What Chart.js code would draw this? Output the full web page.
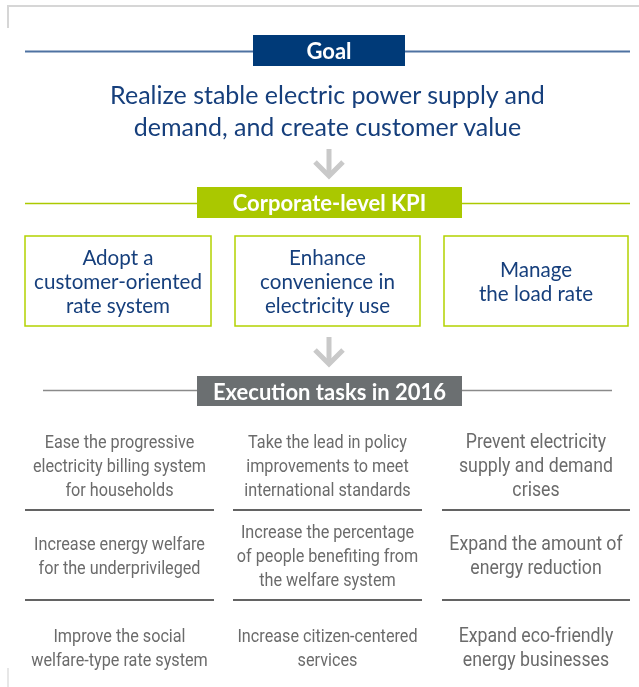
<!DOCTYPE html>
<html>
<head>
<meta charset="utf-8">
<script src="https://cdn.jsdelivr.net/npm/chart.js@4"></script>
<style>
  html, body { margin: 0; padding: 0; background: #fff; }
  #wrap { position: relative; width: 639px; height: 687px; overflow: hidden; }
  #diagram { position: absolute; left: 0; top: 0; }
  .txt { position: absolute; display: flex; flex-direction: column; justify-content: center; align-items: center; text-align: center; white-space: nowrap; }
  .label { font-family: Lato, "Open Sans", sans-serif; font-weight: 700; color: #fff; font-size: 22px; }
  .goal { font-family: Lato, "Open Sans", sans-serif; color: #163f7c; font-size: 25px; line-height: 32px; }
  .kpi { font-family: Lato, "Open Sans", sans-serif; color: #163f7c; font-size: 20.6px; line-height: 24px; }
  .task { font-family: Roboto, sans-serif; color: #6b6b6b; font-size: 18px; line-height: 24px; transform: scaleX(0.9); transform-origin: center; }
  .task.big { font-size: 19.7px; }
</style>
</head>
<body>
<div id="wrap">
  <canvas id="diagram" width="639" height="687"></canvas>
</div>
<script>
document.addEventListener('DOMContentLoaded', function () {
    const goalLabel = 'Goal';
    const goalText = ['Realize stable electric power supply and', 'demand, and create customer value'];
    const kpiLabel = 'Corporate-level KPI';
    const kpiItems = [
        ['Adopt a', 'customer-oriented', 'rate system'],
        ['Enhance', 'convenience in', 'electricity use'],
        ['Manage', 'the load rate']
    ];
    const taskLabel = 'Execution tasks in 2016';
    const taskRow1 = [
        ['Ease the progressive', 'electricity billing system', 'for households'],
        ['Take the lead in policy', 'improvements to meet', 'international standards'],
        ['Prevent electricity', 'supply and demand', 'crises']
    ];
    const taskRow2 = [
        ['Increase energy welfare', 'for the underprivileged'],
        ['Increase the percentage', 'of people benefiting from', 'the welfare system'],
        ['Expand the amount of', 'energy reduction']
    ];
    const taskRow3 = [
        ['Improve the social', 'welfare-type rate system'],
        ['Increase citizen-centered', 'services'],
        ['Expand eco-friendly', 'energy businesses']
    ];

    const wrap = document.getElementById('wrap');
    const kpiCols = [[25, 211], [235, 420], [444, 628]];
    const taskCols = [[25, 214], [233, 422], [442, 630]];

    function addText(cls, lines, left, top, width, height) {
        const d = document.createElement('div');
        d.className = 'txt ' + cls;
        d.style.left = left + 'px';
        d.style.top = top + 'px';
        d.style.width = width + 'px';
        d.style.height = height + 'px';
        lines.forEach(l => {
            const s = document.createElement('span');
            s.textContent = l;
            d.appendChild(s);
        });
        wrap.appendChild(d);
    }

    // Dibujo de marcos, barras y flechas
    const layoutPlugin = {
        id: 'layout',
        afterDraw(chart) {
            const c = chart.ctx;
            const x = v => chart.scales.x.getPixelForValue(v);
            const y = v => chart.scales.y.getPixelForValue(v);
            c.save();

            function line(x1, y1, x2, y2, color, w) {
                c.beginPath();
                c.strokeStyle = color;
                c.lineWidth = w;
                c.moveTo(x(x1), y(y1));
                c.lineTo(x(x2), y(y2));
                c.stroke();
            }
            function rect(x1, y1, x2, y2, color) {
                c.fillStyle = color;
                c.fillRect(x(x1), y(y1), x(x2) - x(x1), y(y2) - y(y1));
            }
            function arrow(cx, top, bottom) {
                c.strokeStyle = '#c9c9c9';
                c.lineWidth = 5;
                c.lineCap = 'butt';
                c.beginPath();
                c.moveTo(x(cx), y(top));
                c.lineTo(x(cx), y(bottom - 2));
                c.stroke();
                c.beginPath();
                c.moveTo(x(cx - 14), y(bottom - 16));
                c.lineTo(x(cx), y(bottom - 2));
                c.lineTo(x(cx + 14), y(bottom - 16));
                c.stroke();
            }

            // marco de página
            line(7, 6, 639, 6, '#d6d6d6', 2);
            line(8, 5, 8, 28, '#d6d6d6', 2);
            line(8, 668, 8, 687, '#cfcfcf', 1);

            // Goal
            line(25, 51.5, 630, 51.5, '#4e72a2', 2);
            rect(253, 35, 405, 66, '#003a78');

            arrow(329, 149, 178);

            // KPI
            line(25, 203.5, 630, 203.5, '#acc900', 1.5);
            rect(197, 187, 462, 218, '#aac800');
            c.strokeStyle = '#b3d200';
            c.lineWidth = 1.5;
            kpiCols.forEach(([a, b]) => {
                c.strokeRect(x(a), y(236), x(b) - x(a), y(326) - y(236));
            });

            arrow(329, 337, 366);

            // tareas
            line(43, 390.5, 612, 390.5, '#8a8a8a', 1.5);
            rect(197, 376, 462, 406, '#6b6f71');
            taskCols.forEach(([a, b]) => {
                line(a, 510, b, 510, '#2f2f2f', 1.5);
                line(a, 600, b, 600, '#2f2f2f', 1.5);
            });
            c.restore();
        }
    };

    new Chart(document.getElementById('diagram').getContext('2d'), {
        type: 'scatter',
        data: { datasets: [{ data: [] }] },
        options: {
            responsive: false,
            animation: false,
            layout: { padding: 0 },
            plugins: { legend: { display: false }, tooltip: { enabled: false } },
            scales: {
                x: { type: 'linear', min: 0, max: 639, display: false },
                y: { type: 'linear', min: 0, max: 687, reverse: true, display: false }
            }
        },
        plugins: [layoutPlugin]
    });

    // textos
    addText('label', [goalLabel], 253, 35, 152, 31);
    addText('goal', goalText, 25, 78, 605, 64);
    addText('label', [kpiLabel], 197, 187, 265, 31);
    kpiItems.forEach((lines, i) => {
        const [a, b] = kpiCols[i];
        addText('kpi', lines, a, 236, b - a, 90);
    });
    addText('label', [taskLabel], 197, 376, 265, 30);
    [[taskRow1, 421], [taskRow2, 511], [taskRow3, 603]].forEach(([row, top]) => {
        row.forEach((lines, i) => {
            const [a, b] = taskCols[i];
            addText(i === 2 ? 'task big' : 'task', lines, a, top, b - a, 90);
        });
    });
});
</script>
</body>
</html>
